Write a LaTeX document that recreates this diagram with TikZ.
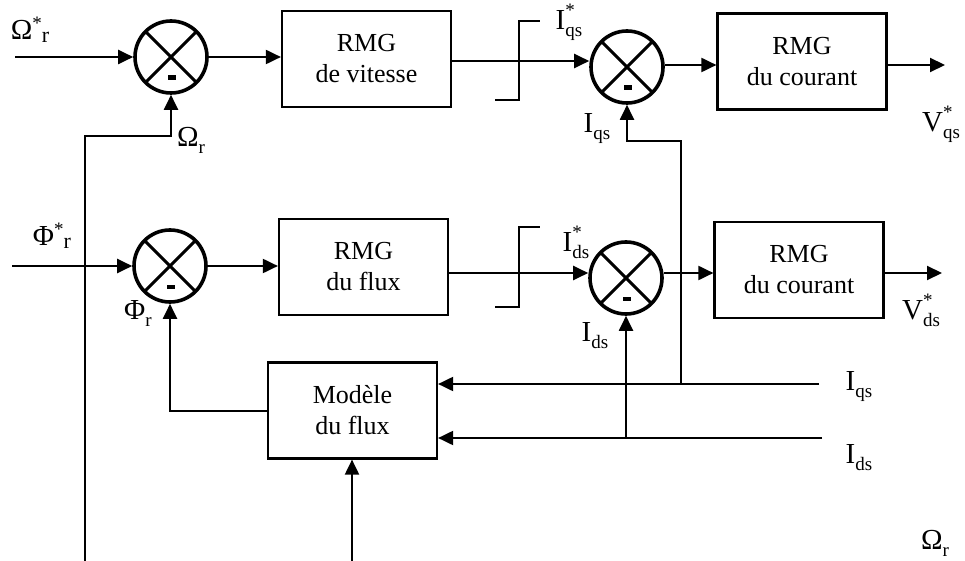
\documentclass[tikz,border=0pt]{standalone}
\usepackage{fontspec}
\setmainfont{Liberation Serif}
\usetikzlibrary{arrows.meta,calc}
\newcommand\sglab[3]{{\fontsize{29}{29}\selectfont #1}\rlap{\raisebox{13pt}{\fontsize{19}{19}\selectfont #3}}\raisebox{-7pt}{\fontsize{19}{19}\selectfont #2}}
\newcommand\sglabb[3]{{\fontsize{29}{29}\selectfont #1}\raisebox{10pt}{\fontsize{19}{19}\selectfont #3}\raisebox{-3pt}{\fontsize{22}{22}\selectfont #2}}
\newcommand\sumdeco[1]{%
  \draw[line width=3pt] ($(#1.center)+(-25.5,-25.5)$) -- ($(#1.center)+(25.5,25.5)$);
  \draw[line width=3pt] ($(#1.center)+(-25.5,25.5)$) -- ($(#1.center)+(25.5,-25.5)$);
  \fill ($(#1.center)+(-3.5,18.5)$) rectangle ($(#1.center)+(4.5,23)$);}
\begin{document}
\begin{tikzpicture}[x=1pt,y=-1pt,
  every node/.style={inner sep=0pt, outer sep=0pt},
  sum/.style={circle, draw, line width=3.6pt, minimum size=72pt, outer sep=1.8pt},
  blk/.style={draw, line width=2.2pt, minimum width=169pt, minimum height=96pt, align=center, font=\fontsize{26}{31}\selectfont, outer sep=1.1pt},
  wire/.style={line width=2pt},
  arr/.style={wire, -{Triangle[length=15pt,width=14pt]}}]
\useasboundingbox (0,0) rectangle (965,561);

% summing junctions
\node[sum] (s1) at (171,57) {};
\node[sum] (s2) at (627,67) {};
\node[sum] (s3) at (170,266) {};
\node[sum] (s4) at (626,278) {};
\sumdeco{s1}\sumdeco{s2}\sumdeco{s3}\sumdeco{s4}

% blocks
\node[blk] (b1) at (366.5,59) {RMG\\de vitesse};
\node[blk] (b2) at (802,61.5) {RMG\\du courant};
\node[blk] (b3) at (363.5,267) {RMG\\du flux};
\node[blk] (b4) at (799,270) {RMG\\du courant};
\node[blk] (b5) at (352.5,410.5) {Mod\`ele\\du flux};

% helper coordinates
\coordinate (in1) at (15,57);
\coordinate (in2) at (12,266);
\coordinate (y2) at (0,61);
\coordinate (y3) at (0,65);
\coordinate (y4) at (0,273);
\coordinate (o1) at (945,65);
\coordinate (o2) at (942,273);
\coordinate (fo) at (85,561);
\coordinate (fc) at (85,136);
\coordinate (bo) at (352,561);
\coordinate (iq) at (819,384);
\coordinate (jq) at (681,384);
\coordinate (kq) at (681,141);
\coordinate (id) at (822,438);

% row 1
\draw[arr] (in1) -- (s1);
\draw[arr] (s1.east) -- (s1.east -| b1.west);
\draw[arr] (b1.east |- y2) -- (s2.west |- y2);
\draw[arr] (s2.east |- y3) -- (b2.west |- y3);
\draw[arr] (b2.east |- y3) -- (o1);
\draw[wire] (495,100) -- (519,100) -- (519,21) -- (540,21);

% row 2
\draw[arr] (in2) -- (s3);
\draw[arr] (s3.east) -- (s3.east -| b3.west);
\draw[arr] (b3.east |- y4) -- (s4.west |- y4);
\draw[arr] (s4.east |- y4) -- (b4.west |- y4);
\draw[arr] (b4.east |- y4) -- (o2);
\draw[wire] (495,307) -- (519,307) -- (519,227) -- (540,227);

% feedbacks
\draw[arr] (fo) -- (fc) -- (fc -| s1.south) -- (s1.south);
\draw[arr] (b5.west) -- (b5.west -| s3.south) -- (s3.south);
\draw[arr] (bo) -- (bo |- b5.south);
\draw[arr] (iq) -- (iq -| b5.east);
\draw[arr] (jq) -- (kq) -- (kq -| s2.south) -- (s2.south);
\draw[arr] (id) -- (id -| b5.east);
\draw[arr] (id -| s4.south) -- (s4.south);

% labels
\node (lOs) at (30,30) {\sglabb{Ω}{r}{*}};
\node (lO1) at (191,140) {\sglab{Ω}{r}{}};
\node (lFs) at (52,236) {\sglabb{Φ}{r}{*}};
\node (lF) at (138,314) {\sglab{Φ}{r}{}};
\node (lIqs) at (569,22) {\sglab{I}{qs}{*}};
\node (lIq) at (597,129) {\sglab{I}{qs}{}};
\node (lVq) at (941,124) {\sglab{V}{qs}{*}};
\node (lIds) at (576,242) {\sglab{I}{ds}{*}};
\node (lId) at (595,336) {\sglab{I}{ds}{}};
\node (lVd) at (921,310) {\sglab{V}{ds}{*}};
\node (lIq2) at (859,387) {\sglab{I}{qs}{}};
\node (lId2) at (859,458) {\sglab{I}{ds}{}};
\node (lO2) at (935,543) {\sglab{Ω}{r}{}};
\end{tikzpicture}
\end{document}
